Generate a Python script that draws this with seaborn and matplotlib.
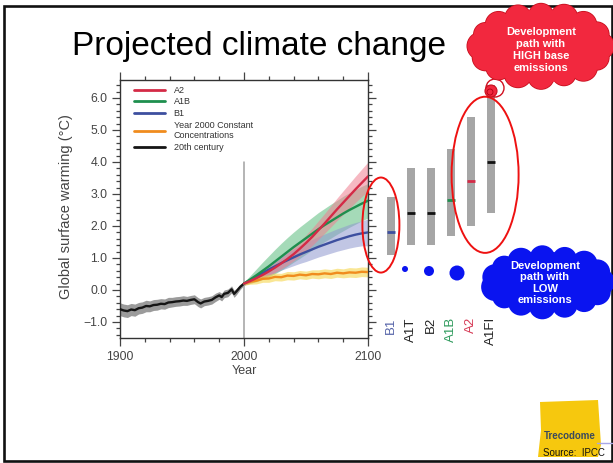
import numpy as np
import pandas as pd
import matplotlib
matplotlib.use("Agg")
import matplotlib.pyplot as plt
import seaborn as sns
from matplotlib.patches import Ellipse, Circle, Polygon, Rectangle
from matplotlib.lines import Line2D
from matplotlib.ticker import MultipleLocator

# ---------------- data ----------------
years_hist = [1900, 1903, 1906, 1909, 1912, 1915, 1918, 1921, 1924, 1927, 1930, 1933,
              1936, 1939, 1942, 1945, 1948, 1951, 1954, 1957, 1960, 1963, 1965, 1968,
              1971, 1974, 1977, 1980, 1982, 1984, 1987, 1990, 1992, 1994, 1997, 2000]
temp_hist = [-0.60, -0.64, -0.66, -0.61, -0.63, -0.57, -0.55, -0.50, -0.51, -0.47, -0.46, -0.43,
             -0.44, -0.39, -0.38, -0.36, -0.35, -0.33, -0.34, -0.31, -0.29, -0.38, -0.42, -0.36,
             -0.34, -0.31, -0.23, -0.17, -0.22, -0.12, -0.09, 0.02, -0.12, -0.04, 0.10, 0.20]
spread_hist = [0.20, 0.20, 0.20, 0.19, 0.19, 0.18, 0.18, 0.18, 0.17, 0.17, 0.17, 0.16,
               0.16, 0.16, 0.15, 0.15, 0.15, 0.15, 0.14, 0.14, 0.14, 0.14, 0.14, 0.13,
               0.13, 0.13, 0.13, 0.12, 0.12, 0.12, 0.12, 0.11, 0.11, 0.10, 0.08, 0.05]

years_proj = [2000, 2005, 2010, 2015, 2020, 2025, 2030, 2035, 2040, 2045, 2050,
              2055, 2060, 2065, 2070, 2075, 2080, 2085, 2090, 2095, 2100]
a2 = [0.20, 0.28, 0.37, 0.47, 0.58, 0.70, 0.83, 0.97, 1.12, 1.29, 1.47,
      1.66, 1.87, 2.08, 2.30, 2.52, 2.73, 2.94, 3.15, 3.35, 3.55]
a1b = [0.20, 0.33, 0.46, 0.60, 0.74, 0.89, 1.04, 1.19, 1.34, 1.48, 1.62,
       1.76, 1.90, 2.03, 2.15, 2.27, 2.39, 2.50, 2.60, 2.70, 2.79]
b1 = [0.20, 0.31, 0.42, 0.53, 0.64, 0.74, 0.84, 0.93, 1.02, 1.11, 1.19,
      1.27, 1.35, 1.42, 1.49, 1.56, 1.62, 1.68, 1.73, 1.77, 1.80]
const = [0.20, 0.26, 0.29, 0.35, 0.36, 0.41, 0.40, 0.45, 0.44, 0.48, 0.46,
         0.50, 0.49, 0.52, 0.50, 0.54, 0.52, 0.55, 0.54, 0.57, 0.56]
a2_spread = [0.05, 0.07, 0.09, 0.11, 0.13, 0.15, 0.17, 0.19, 0.21, 0.23, 0.25,
             0.27, 0.29, 0.31, 0.33, 0.35, 0.37, 0.39, 0.41, 0.43, 0.45]
a1b_spread = [0.05, 0.12, 0.20, 0.27, 0.33, 0.38, 0.42, 0.45, 0.47, 0.49, 0.50,
              0.51, 0.52, 0.52, 0.53, 0.53, 0.54, 0.54, 0.54, 0.54, 0.54]
b1_spread = [0.05, 0.08, 0.11, 0.14, 0.17, 0.20, 0.22, 0.24, 0.26, 0.28, 0.30,
             0.31, 0.32, 0.33, 0.34, 0.35, 0.36, 0.37, 0.38, 0.39, 0.42]
const_spread = [0.05, 0.08, 0.10, 0.11, 0.12, 0.12, 0.12, 0.13, 0.13, 0.13, 0.13,
                0.13, 0.14, 0.14, 0.14, 0.14, 0.14, 0.15, 0.15, 0.15, 0.15]

bar_labels = ["B1", "A1T", "B2", "A1B", "A2", "A1FI"]
bar_low = [1.1, 1.4, 1.4, 1.7, 2.0, 2.4]
bar_high = [2.9, 3.8, 3.8, 4.4, 5.4, 6.4]
bar_best = [1.8, 2.4, 2.4, 2.8, 3.4, 4.0]

yticks = [-1, 0, 1, 2, 3, 4, 5, 6]
ytick_labels = ["\u22121.0", "0.0", "1.0", "2.0", "3.0", "4.0", "5.0", "6.0"]
xticks = [1900, 2000, 2100]
xtick_labels = ["1900", "2000", "2100"]

legend_labels = ["A2", "A1B", "B1", "Year 2000 Constant\nConcentrations", "20th century"]

# ---------------- style ----------------
sns.set_style("ticks")
plt.rcParams['font.family'] = ['Liberation Sans', 'DejaVu Sans']

col = {"A2": "#d42a46", "A1B": "#1e8f4e", "B1": "#3d4f9f",
       "Const": "#f08c1e", "20th": "#151515"}
band = {"A2": "#ef7f90", "A1B": "#5cbd7e", "B1": "#8f97cf",
        "Const": "#f5d23c", "20th": "#8a8a8a"}

W, H = 613, 463
fig = plt.figure(figsize=(W / 100, H / 100), dpi=100)
fig.patch.set_facecolor("white")

# ---------------- main time-series axes ----------------
ax = fig.add_axes([120 / W, 1 - 338 / H, 248 / W, 258 / H])
ax.set_zorder(2)

ax.fill_between(years_hist, np.array(temp_hist) - np.array(spread_hist),
                np.array(temp_hist) + np.array(spread_hist),
                color=band["20th"], alpha=0.85, lw=0, zorder=1)
for key, mean, sp in [("A1B", a1b, a1b_spread), ("B1", b1, b1_spread),
                      ("A2", a2, a2_spread), ("Const", const, const_spread)]:
    m = np.array(mean); s = np.array(sp)
    ax.fill_between(years_proj, m - s, m + s, color=band[key], alpha=0.55, lw=0, zorder=1)

frames = [pd.DataFrame({"Year": years_hist, "T": temp_hist, "series": "20th"})]
for key, mean in [("Const", const), ("B1", b1), ("A1B", a1b), ("A2", a2)]:
    frames.append(pd.DataFrame({"Year": years_proj, "T": mean, "series": key}))
df = pd.concat(frames, ignore_index=True)
sns.lineplot(data=df, x="Year", y="T", hue="series",
             hue_order=["20th", "Const", "B1", "A1B", "A2"],
             palette=col, estimator=None, linewidth=1.7, legend=False, ax=ax, zorder=3)

ax.axvline(2000, ymin=0, ymax=(4.0 + 1.5) / 8.0625, color="#a0a0a0", lw=1.1, zorder=2)

ax.set_xlim(1900, 2100)
ax.set_ylim(-1.5, 6.5625)
ax.set_xticks(xticks)
ax.set_xticklabels(xtick_labels)
ax.set_yticks(yticks)
ax.set_yticklabels(ytick_labels)
ax.xaxis.set_minor_locator(MultipleLocator(20))
ax.yaxis.set_minor_locator(MultipleLocator(0.2))
ax.tick_params(which="both", direction="out", top=True, right=True, left=True, bottom=True,
               color="#444444", width=0.9, labelcolor="#444444", labelsize=8.8)
ax.tick_params(which="major", length=6, pad=3)
ax.tick_params(which="minor", length=3)
for sp in ax.spines.values():
    sp.set_color("#333333")
    sp.set_linewidth(1.0)
ax.set_xlabel("Year", fontsize=9, color="#444444")
ax.set_ylabel("Global surface warming (\u00b0C)", fontsize=10.5, color="#444444")
ax.xaxis.set_label_coords(0.5, -0.105)
ax.yaxis.set_label_coords(-0.19, 0.51)

handles = [Line2D([0], [0], color=col[k], lw=2) for k in ["A2", "A1B", "B1", "Const", "20th"]]
leg = ax.legend(handles, legend_labels, loc="upper left", bbox_to_anchor=(0.056, 0.978),
                frameon=False, fontsize=6.5, handlelength=3.4, handletextpad=1.0,
                labelspacing=0.3, borderpad=0, borderaxespad=0)
for t in leg.get_texts():
    t.set_color("#333333")

# ---------------- range bars axes ----------------
axb = fig.add_axes([368 / W, 1 - 338 / H, 140 / W, 258 / H], sharey=ax)
axb.set_zorder(3)
axb.patch.set_alpha(0)
xs = np.arange(len(bar_labels))
axb.bar(xs, np.array(bar_high) - np.array(bar_low), bottom=bar_low, width=0.4,
        color="#a6a6a6", lw=0, zorder=2)
best_cols = [col["B1"], "#111111", "#111111", col["A1B"], col["A2"], "#111111"]
axb.hlines(bar_best, xs - 0.2, xs + 0.2, colors=best_cols, lw=2, zorder=3)
label_cols = ["#5563a8", "#222222", "#222222", "#2e9a5c", "#d63a55", "#222222"]
for i, (lab, c) in enumerate(zip(bar_labels, label_cols)):
    axb.text(xs[i], -0.85, lab, rotation=90, ha="center", va="top", color=c, fontsize=9.5)
axb.set_xlim(-1.135, 5.865)
axb.axis("off")
axb.add_patch(Ellipse((-0.49, 2.03), 1.85, 2.97, fill=False, ec="#ee1111", lw=1.4,
                      clip_on=False, zorder=5))
axb.add_patch(Ellipse((4.72, 3.6), 3.35, 4.88, fill=False, ec="#ee1111", lw=1.4,
                      clip_on=False, zorder=5))

# ---------------- slide overlay (pixel coordinates) ----------------
axo = fig.add_axes([0, 0, 1, 1])
axo.set_zorder(5)
axo.set_xlim(0, W)
axo.set_ylim(H, 0)
axo.axis("off")

axo.add_patch(Rectangle((3.5, 5.5), 608, 455, fill=False, ec="#111111", lw=1.9, zorder=1))
axo.text(72, 55, "Projected climate change", fontsize=24, ha="left", va="baseline", color="black")


def cloud(cx, cy, rx, ry, r, n, face, edge, rmul):
    ang = np.linspace(0, 2 * np.pi, n, endpoint=False)
    cen = [(cx + rx * np.cos(a), cy + ry * np.sin(a)) for a in ang]
    for (x, y), m in zip(cen, rmul):
        axo.add_patch(Circle((x, y), r * m, fc=face, ec=edge, lw=1.2, zorder=10))
    axo.add_patch(Ellipse((cx, cy), 2 * rx + r, 2 * ry + r, fc=face, ec="none", zorder=11))
    for (x, y), m in zip(cen, rmul):
        axo.add_patch(Circle((x, y), r * m, fc=face, ec="none", zorder=11))


red_face = "#f2283e"
cloud(541, 46, 60, 30, 13, 16, red_face, "#c8101e",
      [1.0, 0.95, 1.05, 0.9, 1.0, 1.05, 0.95, 1.0, 1.05, 0.9, 1.0, 1.0, 0.95, 1.05, 1.0, 0.95])
axo.add_patch(Circle((495, 88), 9, fc="none", ec="#d01020", lw=1.0, zorder=9))
axo.add_patch(Circle((491, 91), 6, fc=red_face, ec="#c8101e", lw=0.8, zorder=9))
axo.add_patch(Circle((490, 92), 3, fc="none", ec="#b00010", lw=0.6, zorder=9))
axo.text(541, 50, "Development\npath with\nHIGH base\nemissions", color="white",
         fontsize=8, fontweight="bold", ha="center", va="center", linespacing=1.25, zorder=12)

blue_face = "#0a14f0"
cloud(548, 282, 54, 24, 12, 15, blue_face, blue_face,
      [1.0, 1.05, 0.95, 1.0, 1.05, 1.0, 0.95, 1.1, 1.0, 0.95, 1.05, 1.0, 0.95, 1.05, 1.0])
axo.add_patch(Circle((405, 269), 3, fc=blue_face, ec="none", zorder=9))
axo.add_patch(Circle((429, 271), 5, fc=blue_face, ec="none", zorder=9))
axo.add_patch(Circle((457, 273), 7.5, fc=blue_face, ec="none", zorder=9))
axo.text(545, 283, "Development\npath with\nLOW\nemissions", color="white",
         fontsize=8, fontweight="bold", ha="center", va="center", linespacing=1.2, zorder=12)

# logo
axo.add_patch(Polygon([(540, 402), (598, 400), (601, 445), (598, 457), (538, 457), (541, 430)],
                      closed=True, fc="#f6c80e", ec="none", zorder=3))
axo.plot([597, 612], [443, 443], color="#a8a8e8", lw=1.0, zorder=4)
axo.text(570, 436, "Trecodome", fontsize=7, fontweight="bold", color="#3b4a5c",
         ha="center", va="center", zorder=5)
axo.text(574, 453, "Source:  IPCC", fontsize=7, color="#111111", ha="center", va="center", zorder=5)

fig.savefig("out.png", dpi=100)
